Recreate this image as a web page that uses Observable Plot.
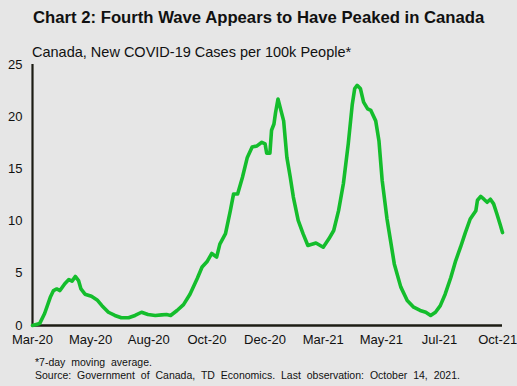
<!DOCTYPE html>
<html>
<head>
<meta charset="utf-8">
<script src="https://cdn.jsdelivr.net/npm/d3@7"></script>
<script src="https://cdn.jsdelivr.net/npm/@observablehq/plot@0.6"></script>
<style>
  html, body { margin: 0; padding: 0; background: #e6e6e6; }
  #wrap { position: relative; width: 517px; height: 386px; overflow: hidden; background: #e6e6e6; font-family: "Liberation Sans", Arial, sans-serif; color: #111; }
  #chart { position: absolute; left: 0; top: 0; }
  .txt { position: absolute; white-space: nowrap; line-height: 1; }
  #title { left: 33px; top: 10px; font-size: 16.7px; font-weight: bold; }
  #subtitle { left: 32px; top: 45px; font-size: 14.5px; }
  #note1 { left: 35px; top: 357px; font-size: 10.5px; word-spacing: 3px; }
  #note2 { left: 35px; top: 370px; font-size: 10.5px; word-spacing: 3px; }
</style>
</head>
<body>
<div id="wrap">
  <div id="chart"></div>
  <div class="txt" id="title">Chart 2: Fourth Wave Appears to Have Peaked in Canada</div>
  <div class="txt" id="subtitle">Canada, New COVID-19 Cases per 100k People*</div>
  <div class="txt" id="note1">*7-day moving average.</div>
  <div class="txt" id="note2">Source: Government of Canada, TD Economics. Last observation: October 14, 2021.</div>
</div>
<script>
const dates = ["2020-03-11","2020-03-20","2020-03-26","2020-04-02","2020-04-06","2020-04-10","2020-04-14","2020-04-20","2020-04-25","2020-04-29",
"2020-05-03","2020-05-07","2020-05-10","2020-05-15","2020-05-23","2020-05-30","2020-06-05","2020-06-13","2020-06-21","2020-06-29",
"2020-07-08","2020-07-16","2020-07-24","2020-08-01","2020-08-10","2020-08-18","2020-08-24","2020-08-29","2020-09-06","2020-09-14",
"2020-09-22","2020-10-01","2020-10-07","2020-10-13","2020-10-19","2020-10-25","2020-10-29","2020-11-05","2020-11-11","2020-11-15",
"2020-11-20","2020-11-26","2020-12-02","2020-12-08","2020-12-14","2020-12-20","2020-12-24","2020-12-26","2020-12-30","2021-01-01",
"2021-01-04","2021-01-06","2021-01-09","2021-01-12","2021-01-16","2021-01-20","2021-01-24","2021-01-28","2021-02-03","2021-02-09",
"2021-02-15","2021-02-21","2021-02-25","2021-03-06","2021-03-13","2021-03-19","2021-03-25","2021-03-31","2021-04-06","2021-04-11",
"2021-04-14","2021-04-17","2021-04-21","2021-04-25","2021-04-30","2021-05-04","2021-05-10","2021-05-14","2021-05-18","2021-05-24",
"2021-05-28","2021-06-02","2021-06-10","2021-06-18","2021-06-26","2021-07-04","2021-07-11","2021-07-17","2021-07-23","2021-07-29",
"2021-08-04","2021-08-11","2021-08-17","2021-08-23","2021-08-29","2021-09-04","2021-09-11","2021-09-13","2021-09-17","2021-09-21",
"2021-09-25","2021-09-29","2021-10-03","2021-10-07","2021-10-11","2021-10-14"];
const cases = [0,0.2,1.15,2.7,3.35,3.5,3.35,4.0,4.4,4.25,
4.7,4.3,3.5,3.0,2.8,2.45,1.9,1.27,0.96,0.74,
0.74,0.96,1.27,1.05,0.96,1.02,1.05,0.96,1.44,2.0,
3.0,4.5,5.6,6.1,6.9,6.55,7.8,8.8,11.0,12.6,
12.6,14.2,16.1,17.1,17.2,17.55,17.4,16.5,16.5,18.7,
19.3,20.4,21.7,20.8,19.6,16.1,14.3,12.3,10.06,8.8,
7.66,7.8,7.9,7.5,8.3,9.1,11.0,13.6,17.4,21.2,
22.7,23.0,22.7,21.4,20.75,20.6,19.6,17.7,13.9,10.2,
8.3,5.9,3.7,2.4,1.75,1.44,1.27,0.96,1.27,1.9,
3.0,4.6,6.2,7.5,8.9,10.2,11.0,12.0,12.36,12.1,
11.8,12.1,11.65,10.7,9.7,8.9];
const tickDates = ["2020-03-11","2020-05-22","2020-08-02","2020-10-13","2020-12-24","2021-03-06","2021-05-17","2021-07-28","2021-10-08"];
const tickLabels = ["Mar-20","May-20","Aug-20","Oct-20","Dec-20","Mar-21","May-21","Jul-21","Oct-21"];
const yTicks = [0, 5, 10, 15, 20, 25];

const data = dates.map((d, i) => ({date: new Date(d), value: cases[i]}));
const start = new Date(dates[0]);
const end = new Date(dates[dates.length - 1]);
const axisColor = "#1c1c14";

const chart = Plot.plot({
  width: 517,
  height: 386,
  marginLeft: 32,
  marginRight: 15,
  marginTop: 64,
  marginBottom: 61,
  style: {background: "transparent", fontFamily: "'Liberation Sans', Arial, sans-serif", fontSize: "13px", color: "#111"},
  x: {type: "utc", domain: [start, end]},
  y: {domain: [0, 25]},
  marks: [
    Plot.axisY({ticks: yTicks, tickSize: 0, tickPadding: 10, label: null, fontSize: 13}),
    Plot.axisX({ticks: tickDates.map(d => new Date(d)), tickSize: 0, tickPadding: 9, label: null, fontSize: 13,
      tickFormat: d => tickLabels[tickDates.indexOf(d.toISOString().slice(0, 10))]}),
    Plot.ruleX([start], {y1: 0, y2: 25, stroke: axisColor, strokeWidth: 2.2}),
    Plot.ruleY([0], {stroke: axisColor, strokeWidth: 2.5}),
    Plot.line(data, {x: "date", y: "value", stroke: "#14bd2c", strokeWidth: 3.6, strokeLinejoin: "round", strokeLinecap: "round"})
  ]
});
document.getElementById("chart").appendChild(chart);
</script>
</body>
</html>
